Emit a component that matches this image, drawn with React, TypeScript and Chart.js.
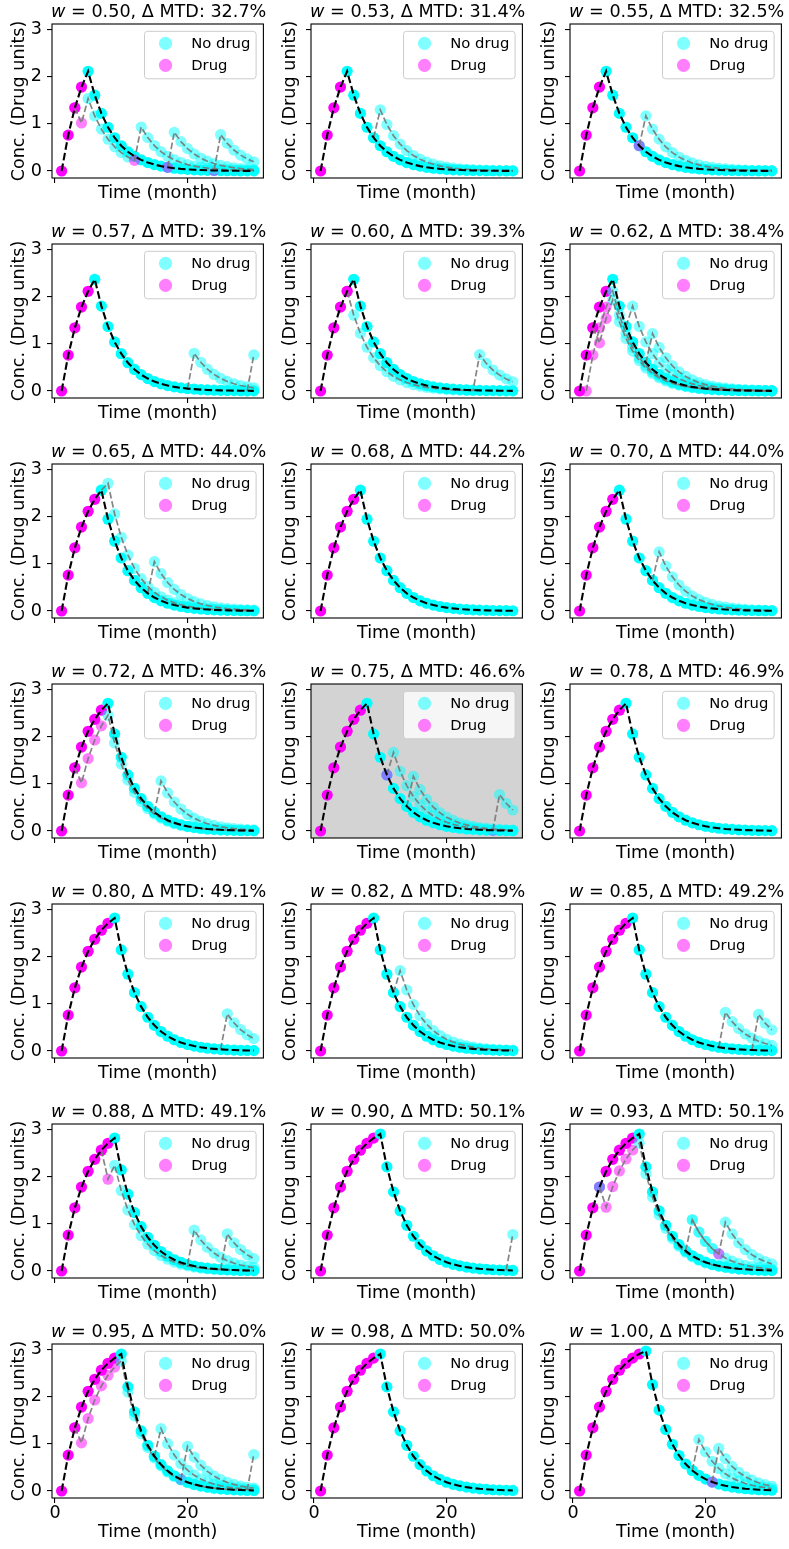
import React, { useEffect, useRef } from "react";
import { Chart, registerables } from "chart.js";

Chart.register(...registerables);

// ---------------- data ----------------
const TIME = [1, 2, 3, 4, 5, 6, 7, 8, 9, 10, 11, 12, 13, 14, 15, 16, 17, 18, 19, 20, 21, 22, 23, 24, 25, 26, 27, 28, 29, 30];
const X_TICKS = [0, 20];
const Y_TICKS = [0, 1, 2, 3];

const W_VALUES = [0.5, 0.53, 0.55, 0.57, 0.6, 0.62, 0.65, 0.68, 0.7, 0.72, 0.75, 0.78, 0.8, 0.82, 0.85, 0.88, 0.9, 0.93, 0.95, 0.98, 1.0];
const MTD_VALUES = [32.7, 31.4, 32.5, 39.1, 39.3, 38.4, 44.0, 44.2, 44.0, 46.3, 46.6, 46.9, 49.1, 48.9, 49.2, 49.1, 50.1, 50.1, 50.0, 50.0, 51.3];
const HIGHLIGHT_PANEL = 10;

const MAIN_N4 = [0, 0.76, 1.338, 1.777, 2.11, 1.604, 1.219, 0.926, 0.704, 0.535, 0.407, 0.309, 0.235, 0.179, 0.136, 0.103, 0.078, 0.06, 0.045, 0.034, 0.026, 0.02, 0.015, 0.011, 0.009, 0.007, 0.005, 0.004, 0.003, 0.002];
const MAIN_N5 = [0, 0.76, 1.338, 1.777, 2.11, 2.364, 1.797, 1.365, 1.038, 0.789, 0.599, 0.456, 0.346, 0.263, 0.2, 0.152, 0.116, 0.088, 0.067, 0.051, 0.039, 0.029, 0.022, 0.017, 0.013, 0.01, 0.008, 0.006, 0.004, 0.003];
const MAIN_N6 = [0, 0.76, 1.338, 1.777, 2.11, 2.364, 2.557, 1.943, 1.477, 1.122, 0.853, 0.648, 0.493, 0.374, 0.285, 0.216, 0.164, 0.125, 0.095, 0.072, 0.055, 0.042, 0.032, 0.024, 0.018, 0.014, 0.011, 0.008, 0.006, 0.005];
const MAIN_N7 = [0, 0.76, 1.338, 1.777, 2.11, 2.364, 2.557, 2.703, 2.054, 1.561, 1.187, 0.902, 0.685, 0.521, 0.396, 0.301, 0.229, 0.174, 0.132, 0.1, 0.076, 0.058, 0.044, 0.034, 0.025, 0.019, 0.015, 0.011, 0.009, 0.007];
const MAIN_N8 = [0, 0.76, 1.338, 1.777, 2.11, 2.364, 2.557, 2.703, 2.814, 2.139, 1.625, 1.235, 0.939, 0.714, 0.542, 0.412, 0.313, 0.238, 0.181, 0.138, 0.105, 0.079, 0.06, 0.046, 0.035, 0.027, 0.02, 0.015, 0.012, 0.009];
const MAIN_N9 = [0, 0.76, 1.338, 1.777, 2.11, 2.364, 2.557, 2.703, 2.814, 2.899, 2.203, 1.674, 1.273, 0.967, 0.735, 0.559, 0.425, 0.323, 0.245, 0.186, 0.142, 0.108, 0.082, 0.062, 0.047, 0.036, 0.027, 0.021, 0.016, 0.012];
const MAIN_N10 = [0, 0.76, 1.338, 1.777, 2.11, 2.364, 2.557, 2.703, 2.814, 2.899, 2.963, 2.252, 1.711, 1.301, 0.989, 0.751, 0.571, 0.434, 0.33, 0.251, 0.19, 0.145, 0.11, 0.084, 0.064, 0.048, 0.037, 0.028, 0.021, 0.016];

const MAIN_OF_PANEL = [MAIN_N4, MAIN_N4, MAIN_N4, MAIN_N5, MAIN_N5, MAIN_N5, MAIN_N6, MAIN_N6, MAIN_N6, MAIN_N7, MAIN_N7, MAIN_N7, MAIN_N8, MAIN_N8, MAIN_N8, MAIN_N8, MAIN_N9, MAIN_N9, MAIN_N9, MAIN_N9, MAIN_N10];
const MAIN_DRUG_MONTHS = [4, 4, 4, 5, 5, 5, 6, 6, 6, 7, 7, 7, 8, 8, 8, 8, 9, 9, 9, 9, 10];

// alternative (grey dashed) trajectories: values start at the given month
const ALT_01A = [1.338, 1.017, 1.533, 1.165, 0.886, 0.673, 0.512, 0.389, 0.296, 0.225, 0.931, 0.707, 0.538, 0.409, 0.311, 0.236, 0.179, 0.136, 0.104, 0.079, 0.06, 0.046, 0.035, 0.026, 0.02, 0.015, 0.012, 0.009];
const ALT_01B = [0.078, 0.819, 0.622, 0.473, 0.36, 0.273, 0.208, 0.158, 0.12, 0.091, 0.069, 0.053, 0.04, 0.03];
const ALT_01C = [0.011, 0.768, 0.584, 0.444, 0.337, 0.256, 0.195];
const ALT_02A = [0.704, 1.295, 0.984, 0.748, 0.569, 0.432, 0.328, 0.25, 0.19, 0.144, 0.11, 0.083, 0.063, 0.048, 0.037, 0.028, 0.021, 0.016, 0.012, 0.009, 0.007, 0.005];
const ALT_03A = [0.535, 1.167, 0.887, 0.674, 0.512, 0.389, 0.296, 0.225, 0.171, 0.13, 0.099, 0.075, 0.057, 0.043, 0.033, 0.025, 0.019, 0.015, 0.011, 0.008, 0.006];
const ALT_04A = [0.051, 0.799, 0.607, 0.461, 0.351, 0.266, 0.203, 0.154, 0.117, 0.089, 0.068];
const ALT_04B = [0.004, 0.763];
const ALT_05A = [2.11, 1.604, 1.219, 0.926, 0.704, 0.535, 0.407, 0.309, 0.235, 0.179, 0.136, 0.103, 0.078, 0.06, 0.045, 0.034, 0.026, 0.02, 0.015, 0.011, 0.768, 0.584, 0.444, 0.337, 0.256, 0.195];
const ALT_06A = [0, 0.76, 1.338, 1.777, 2.11, 1.604, 1.219, 0.926, 0.704, 0.535, 0.407, 0.309, 0.235, 0.179, 0.136, 0.103, 0.078, 0.06, 0.045, 0.034, 0.026, 0.02, 0.015, 0.011, 0.009, 0.007, 0.005, 0.004, 0.003];
const ALT_06B = [1.338, 1.018, 1.534, 1.926, 1.464, 1.112, 0.845, 0.643, 0.488, 0.371, 0.282, 0.214, 0.163, 0.124, 0.094, 0.072, 0.054, 0.041, 0.031, 0.024, 0.018, 0.014, 0.011, 0.008, 0.006, 0.005, 0.004, 0.003];
const ALT_06C = [1.365, 1.797, 1.366, 1.038, 0.789, 0.6, 0.456, 0.346, 0.263, 0.2, 0.152, 0.116, 0.088, 0.067, 0.051, 0.039, 0.029, 0.022, 0.017, 0.013, 0.01, 0.008, 0.006];
const ALT_06D = [0.599, 1.215, 0.923, 0.702, 0.533, 0.405, 0.308, 0.234, 0.178, 0.135, 0.103, 0.078, 0.059, 0.045, 0.034, 0.026, 0.02, 0.015, 0.011, 0.009];
const ALT_07A = [2.557, 2.703, 2.054, 1.561, 1.187, 0.902, 0.685, 0.521, 0.396, 0.301, 0.229, 0.174, 0.132, 0.1, 0.076, 0.058, 0.044, 0.034, 0.025, 0.019, 0.015, 0.011, 0.009, 0.007];
const ALT_07B = [0.374, 1.044, 0.793, 0.603, 0.458, 0.348, 0.265, 0.201, 0.153, 0.116, 0.088, 0.067, 0.051, 0.039, 0.03, 0.022, 0.017];
const ALT_09A = [0.648, 1.252, 0.952, 0.723, 0.55, 0.418, 0.318, 0.241, 0.184, 0.139, 0.106, 0.081, 0.061, 0.047, 0.035, 0.027, 0.021, 0.016, 0.012];
const ALT_10A = [1.338, 1.018, 1.534, 1.926, 2.224, 2.45, 1.862, 1.415, 1.076, 0.817, 0.621, 0.472, 0.359, 0.273, 0.207, 0.158, 0.12, 0.091, 0.069, 0.053, 0.04, 0.03, 0.023, 0.018, 0.013, 0.01, 0.008, 0.006];
const ALT_10B = [0.396, 1.061, 0.806, 0.613, 0.466, 0.354, 0.269, 0.204, 0.155, 0.118, 0.09, 0.068, 0.052, 0.039, 0.03, 0.023];
const ALT_11A = [1.187, 1.662, 1.263, 0.96, 0.73, 0.555, 0.421, 0.32, 0.243, 0.185, 0.141, 0.107, 0.081, 0.062, 0.047, 0.036, 0.027, 0.021, 0.016, 0.012];
const ALT_11B = [0.521, 1.156, 0.879, 0.668, 0.507, 0.386, 0.293, 0.223, 0.169, 0.129, 0.098, 0.074, 0.056, 0.043, 0.033, 0.025, 0.019];
const ALT_11C = [0.015, 0.771, 0.586, 0.445];
const ALT_13A = [0.035, 0.787, 0.598, 0.454, 0.345, 0.262];
const ALT_14A = [1.235, 1.699, 1.291, 0.981, 0.746, 0.567, 0.431, 0.327, 0.249, 0.189, 0.144, 0.109, 0.083, 0.063, 0.048, 0.036, 0.028, 0.021, 0.016];
const ALT_15A = [0.079, 0.82, 0.623, 0.474, 0.36, 0.274, 0.208, 0.158, 0.12];
const ALT_15B = [0.02, 0.775, 0.589, 0.448];
const ALT_16A = [2.557, 1.943, 2.237, 1.7, 1.292, 0.982, 0.746, 0.567, 0.431, 0.328, 0.249, 0.189, 0.144, 0.109, 0.083, 0.063, 0.048, 0.037, 0.028, 0.021, 0.016, 0.012, 0.009, 0.007];
const ALT_16B = [0.138, 0.865, 0.657, 0.5, 0.38, 0.288, 0.219, 0.167, 0.127, 0.096, 0.073];
const ALT_16C = [0.035, 0.787, 0.598, 0.454, 0.345, 0.262];
const ALT_17A = [0.016, 0.772];
const ALT_18A = [1.777, 1.351, 1.787, 2.118, 2.37, 2.561, 2.706, 2.057, 1.563, 1.188, 0.903, 0.686, 0.521, 0.396, 0.301, 0.229, 0.174, 0.132, 0.1, 0.076, 0.058, 0.044, 0.034, 0.026, 0.019, 0.015, 0.011];
const ALT_18B = [0.425, 1.083, 0.823, 0.626, 0.475, 0.361, 1.034, 0.786, 0.597, 0.454, 0.345, 0.262, 0.199, 0.151];
const ALT_18C = [1.083, 0.823, 0.626, 0.475, 0.361, 0.275, 0.209, 0.159, 0.121, 0.092, 0.07, 0.053, 0.04];
const ALT_19A = [1.338, 1.018, 1.534, 1.926, 2.224, 2.45, 2.622, 2.753, 2.092, 1.59, 1.209, 0.918, 0.698, 0.531, 0.403, 0.307, 0.233, 0.177, 0.135, 0.102, 0.078, 0.059, 0.045, 0.034, 0.026, 0.02, 0.015, 0.011];
const ALT_19B = [0.735, 1.319, 1.002, 0.762, 0.579, 0.44, 0.335, 0.254, 0.193, 0.147, 0.112, 0.085, 0.064, 0.049, 0.037, 0.028];
const ALT_19C = [0.245, 0.946, 0.719, 0.546, 0.415, 0.316, 0.24, 0.182, 0.139, 0.105, 0.08, 0.061];
const ALT_19D = [0.016, 0.772];
const ALT_21A = [0.434, 1.09, 0.829, 0.63, 0.478, 0.364, 0.276, 0.21, 0.16, 0.121, 0.092, 0.07, 0.053];
const ALT_21B = [0.19, 0.904, 0.687, 0.522, 0.397, 0.302, 0.229, 0.174, 0.133, 0.101];

type Alt = { from: number; y: number[]; drug: number[] };
const ALTS: Alt[][] = [
  [{ from: 3, y: ALT_01A, drug: [3, 4, 12] }, { from: 17, y: ALT_01B, drug: [17] }, { from: 24, y: ALT_01C, drug: [24] }],
  [{ from: 9, y: ALT_02A, drug: [] }],
  [{ from: 10, y: ALT_03A, drug: [10] }],
  [{ from: 20, y: ALT_04A, drug: [] }, { from: 29, y: ALT_04B, drug: [] }],
  [{ from: 5, y: ALT_05A, drug: [5] }],
  [{ from: 2, y: ALT_06A, drug: [2, 3, 4, 5] }, { from: 3, y: ALT_06B, drug: [3, 4, 5] }, { from: 8, y: ALT_06C, drug: [] }, { from: 11, y: ALT_06D, drug: [] }],
  [{ from: 7, y: ALT_07A, drug: [] }, { from: 14, y: ALT_07B, drug: [] }],
  [],
  [{ from: 12, y: ALT_09A, drug: [] }],
  [{ from: 3, y: ALT_10A, drug: [3, 4, 5, 6, 7] }, { from: 15, y: ALT_10B, drug: [] }],
  [{ from: 11, y: ALT_11A, drug: [11] }, { from: 14, y: ALT_11B, drug: [] }, { from: 27, y: ALT_11C, drug: [27] }],
  [],
  [{ from: 25, y: ALT_13A, drug: [] }],
  [{ from: 12, y: ALT_14A, drug: [] }],
  [{ from: 22, y: ALT_15A, drug: [] }, { from: 27, y: ALT_15B, drug: [] }],
  [{ from: 7, y: ALT_16A, drug: [7, 8] }, { from: 20, y: ALT_16B, drug: [] }, { from: 25, y: ALT_16C, drug: [] }],
  [{ from: 29, y: ALT_17A, drug: [] }],
  [{ from: 4, y: ALT_18A, drug: [5, 6, 7, 8, 9] }, { from: 17, y: ALT_18B, drug: [22] }, { from: 18, y: ALT_18C, drug: [] }],
  [{ from: 3, y: ALT_19A, drug: [3, 4, 5, 6, 7, 8, 9] }, { from: 15, y: ALT_19B, drug: [] }, { from: 19, y: ALT_19C, drug: [19] }, { from: 29, y: ALT_19D, drug: [] }],
  [],
  [{ from: 18, y: ALT_21A, drug: [] }, { from: 21, y: ALT_21B, drug: [21] }],
];

// ---------------- layout & style ----------------
const FONT = '"DejaVu Sans"';
const FS = 17.6;
const LEG_FS = 14.8;
const COL_LEFT = [52, 311, 570];
const PLOT_W = 214;
const PLOT_H = 154;
const ROW_TOP0 = 24;
const ROW_STEP = 220;
const TOP_ZONE = 24;
const RIGHT_PAD = 3;
const X_MIN = -0.45;
const X_MAX = 31.45;
const Y_MIN = -0.148;
const Y_MAX = 3.111;
const POINT_R = 5.6;

const CYAN = "#00ffff";
const MAGENTA = "#ff00ff";
const CYAN_A = "rgba(0,255,255,0.5)";
const MAGENTA_A = "rgba(255,0,255,0.5)";

function roundRect(ctx: CanvasRenderingContext2D, x: number, y: number, w: number, h: number, r: number) {
  ctx.beginPath();
  ctx.moveTo(x + r, y);
  ctx.lineTo(x + w - r, y);
  ctx.quadraticCurveTo(x + w, y, x + w, y + r);
  ctx.lineTo(x + w, y + h - r);
  ctx.quadraticCurveTo(x + w, y + h, x + w - r, y + h);
  ctx.lineTo(x + r, y + h);
  ctx.quadraticCurveTo(x, y + h, x, y + h - r);
  ctx.lineTo(x, y + r);
  ctx.quadraticCurveTo(x, y, x + r, y);
  ctx.closePath();
}

function makePlugin(index: number) {
  return {
    id: "panelDeco" + index,
    beforeDraw(chart: any) {
      if (index !== HIGHLIGHT_PANEL) return;
      const { ctx, chartArea: a } = chart;
      ctx.save();
      ctx.fillStyle = "#d3d3d3";
      ctx.fillRect(a.left, a.top, a.right - a.left, a.bottom - a.top);
      ctx.restore();
    },
    afterDatasetsDraw(chart: any) {
      const { ctx, chartArea: a } = chart;
      ctx.save();
      ctx.strokeStyle = "#000";
      ctx.lineWidth = 1.1;
      ctx.strokeRect(a.left, a.top, a.right - a.left, a.bottom - a.top);
      ctx.restore();
    },
    afterDraw(chart: any) {
      const { ctx, chartArea: a } = chart;
      ctx.save();
      // legend
      ctx.font = `${LEG_FS}px ${FONT}`;
      const tw = Math.max(ctx.measureText("No drug").width, ctx.measureText("Drug").width);
      const bw = 5.8 + 29.2 + 11.7 + tw + 5.8;
      const bh = 47.5;
      const bx = a.right - 7.3 - bw;
      const by = a.top + 7.3;
      roundRect(ctx, bx, by, bw, bh, 3);
      ctx.fillStyle = "rgba(255,255,255,0.8)";
      ctx.fill();
      ctx.strokeStyle = "#cccccc";
      ctx.lineWidth = 1;
      ctx.stroke();
      const entries = [
        { label: "No drug", color: CYAN_A, dy: 12 },
        { label: "Drug", color: MAGENTA_A, dy: 34 },
      ];
      for (const e of entries) {
        ctx.beginPath();
        ctx.arc(bx + 21, by + e.dy, 6.6, 0, Math.PI * 2);
        ctx.fillStyle = e.color;
        ctx.fill();
        ctx.fillStyle = "#000";
        ctx.textBaseline = "middle";
        ctx.textAlign = "left";
        ctx.fillText(e.label, bx + 46.7, by + e.dy + 0.5);
      }
      // title
      const p1 = "w";
      const p2 = ` = ${W_VALUES[index].toFixed(2)}, \u0394 MTD: ${MTD_VALUES[index].toFixed(1)}%`;
      ctx.font = `italic ${FS}px ${FONT}`;
      const w1 = ctx.measureText(p1).width;
      ctx.font = `${FS}px ${FONT}`;
      const w2 = ctx.measureText(p2).width;
      const x0 = (a.left + a.right) / 2 - (w1 + w2) / 2 + 1;
      const yb = a.top - 7.5;
      ctx.textBaseline = "alphabetic";
      ctx.textAlign = "left";
      ctx.fillStyle = "#000";
      ctx.font = `italic ${FS}px ${FONT}`;
      ctx.fillText(p1, x0, yb);
      ctx.font = `${FS}px ${FONT}`;
      ctx.fillText(p2, x0 + w1, yb);
      ctx.restore();
    },
  };
}

function buildDatasets(index: number) {
  const main = MAIN_OF_PANEL[index];
  const nd = MAIN_DRUG_MONTHS[index];
  const ds: any[] = [];
  ds.push({
    data: TIME.map((t, k) => ({ x: t, y: main[k] })),
    showLine: true,
    pointRadius: 0,
    borderColor: "#000",
    borderWidth: 2.1,
    borderDash: [7.6, 3.2],
    order: 0,
  });
  for (const alt of ALTS[index]) {
    const pts = alt.y.map((v, k) => ({ x: TIME[alt.from - 1 + k], y: v }));
    ds.push({
      data: pts,
      showLine: true,
      pointRadius: 0,
      borderColor: "rgba(120,120,120,0.9)",
      borderWidth: 1.7,
      borderDash: [6.5, 2.8],
      order: 1,
    });
    ds.push({
      data: pts,
      showLine: false,
      pointRadius: POINT_R,
      pointBorderWidth: 0,
      pointBackgroundColor: pts.map((p) => (alt.drug.includes(p.x) ? MAGENTA_A : CYAN_A)),
      order: 2,
    });
  }
  ds.push({
    data: TIME.map((t, k) => ({ x: t, y: main[k] })),
    showLine: false,
    pointRadius: POINT_R,
    pointBorderWidth: 0,
    pointBackgroundColor: TIME.map((t) => (t <= nd ? MAGENTA : CYAN)),
    order: 3,
  });
  return ds;
}

function Panel({ index }: { index: number }) {
  const ref = useRef<HTMLCanvasElement | null>(null);
  const row = Math.floor(index / 3);
  const col = index % 3;
  const bottomRow = row === 6;
  const yZone = col === 0 ? 52 : 36;
  const xZone = bottomRow ? 45 : 26;
  const left = COL_LEFT[col] - yZone;
  const top = ROW_TOP0 + ROW_STEP * row - TOP_ZONE;
  const width = yZone + PLOT_W + RIGHT_PAD;
  const height = TOP_ZONE + PLOT_H + xZone;
  const yTitlePad = col === 0 ? 9 : 4.4;

  useEffect(() => {
    if (!ref.current) return;
    const font = { family: FONT, size: FS, lineHeight: 1.2 };
    const chart = new Chart(ref.current, {
      type: "scatter",
      data: { datasets: buildDatasets(index) },
      options: {
        responsive: false,
        animation: false,
        devicePixelRatio: 1,
        events: [],
        layout: { padding: { left: 0, right: RIGHT_PAD, top: TOP_ZONE, bottom: 0 } },
        plugins: { legend: { display: false }, tooltip: { enabled: false }, title: { display: false } },
        scales: {
          x: {
            type: "linear",
            position: "bottom",
            min: X_MIN,
            max: X_MAX,
            afterBuildTicks: (s: any) => {
              s.ticks = X_TICKS.map((v) => ({ value: v }));
            },
            afterFit: (s: any) => {
              s.height = xZone;
              s.paddingLeft = 0;
              s.paddingRight = 0;
            },
            ticks: { display: bottomRow, font, color: "#000", padding: 0, maxRotation: 0, autoSkip: false },
            grid: { display: true, drawOnChartArea: false, drawTicks: true, tickLength: 5, color: "#000", lineWidth: 1.1 },
            border: { display: false },
            title: { display: true, text: "Time (month)", font, color: "#000", padding: { top: 0, bottom: 0 } },
          },
          y: {
            type: "linear",
            position: "left",
            min: Y_MIN,
            max: Y_MAX,
            afterBuildTicks: (s: any) => {
              s.ticks = Y_TICKS.map((v) => ({ value: v }));
            },
            afterFit: (s: any) => {
              s.width = yZone;
              s.paddingTop = 0;
              s.paddingBottom = 0;
            },
            ticks: { display: col === 0, font, color: "#000", padding: 5, autoSkip: false },
            grid: { display: true, drawOnChartArea: false, drawTicks: true, tickLength: 5, color: "#000", lineWidth: 1.1 },
            border: { display: false },
            title: { display: true, text: "Conc. (Drug units)", font, color: "#000", padding: { top: yTitlePad, bottom: 0 } },
          },
        },
      } as any,
      plugins: [makePlugin(index)],
    });
    return () => chart.destroy();
  }, []);

  return (
    <canvas
      ref={ref}
      width={width}
      height={height}
      style={{ position: "absolute", left, top, width, height }}
    />
  );
}

export default function App() {
  return (
    <div style={{ position: "absolute", left: 0, top: 0, width: 789, height: 1549, background: "#fff", overflow: "hidden" }}>
      {W_VALUES.map((_, i) => (
        <Panel key={i} index={i} />
      ))}
    </div>
  );
}
